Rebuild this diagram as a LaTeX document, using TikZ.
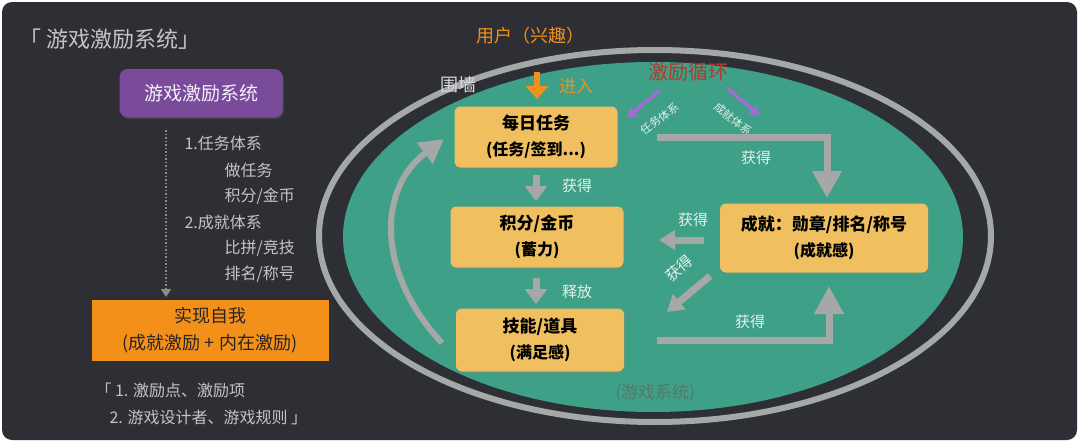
\documentclass[tikz,border=0pt]{standalone}
\usepackage{fontspec}
\setmainfont{Noto Sans CJK SC}
\usetikzlibrary{arrows.meta,shadows,calc}
\definecolor{bgc}{HTML}{2E2F34}
\definecolor{ringc}{HTML}{A4A8A6}
\definecolor{greenc}{HTML}{3FA088}
\definecolor{boxc}{HTML}{F0C060}
\definecolor{purc}{HTML}{7A4A9B}
\definecolor{orc}{HTML}{F39019}
\definecolor{txtl}{HTML}{C4C4C4}
\definecolor{garc}{HTML}{A5A8A6}
\definecolor{redc}{HTML}{B5392B}
\definecolor{arrp}{HTML}{A26DD2}
\definecolor{labc}{HTML}{E4F2EC}
\definecolor{gsys}{HTML}{55786E}
\newcommand{\secl}{\fontsize{16}{26}\selectfont}
\tikzset{
  ybox/.style={fill=boxc, rounded corners=6pt, align=center, text=black,
    font=\fontsize{17}{26}\selectfont\bfseries,
    drop shadow={shadow xshift=1pt, shadow yshift=-1.5pt, opacity=0.35}},
  garrow/.style={draw=garc, line width=7pt},
  lbl/.style={text=labc, font=\fontsize{15}{18}\selectfont},
  listtxt/.style={text=txtl, font=\fontsize{16}{18}\selectfont, anchor=west},
  parrow/.style={draw=arrp, line width=3.5pt, -{Triangle[length=10pt,width=11pt]}}
}
\begin{document}
\begin{tikzpicture}[x=1pt,y=-1pt]
\useasboundingbox (0,0) rectangle (1080,442);
\fill[white] (0,0) rectangle (1080,442);
\fill[bgc, rounded corners=10pt] (2,2) rectangle (1077,440);

% title
\node[text=txtl, font=\fontsize{22}{24}\selectfont, anchor=west] (title) at (16,39) {「 游戏激励系统」};

% purple box
\node[fill=purc, rounded corners=8pt, minimum width=163pt, minimum height=48pt, text=white!92!purc,
  font=\fontsize{19}{22}\selectfont,
  drop shadow={shadow xshift=1pt, shadow yshift=-1.5pt, opacity=0.4}] (mot) at (201,93) {游戏激励系统};

% list
\node[listtxt] (l1) at (181,143) {1.任务体系};
\node[listtxt] (l2) at (221,170) {做任务};
\node[listtxt] (l3) at (221,196) {积分/金币};
\node[listtxt] (l4) at (181,222) {2.成就体系};
\node[listtxt] (l5) at (221,248) {比拼/竞技};
\node[listtxt] (l6) at (221,274) {排名/称号};

% orange box
\node[fill=orc, minimum width=237pt, minimum height=61pt, align=center, text=black!85,
  font=\fontsize{18}{27}\selectfont] (self) at (210,330) {实现自我\\(成就激励 + 内在激励)};

\coordinate (dtop) at (166,130);
\coordinate (dbot) at (166,297);
\draw[draw=black!45, line width=1.5pt, dotted, -{Triangle[length=8pt,width=10pt]}] (dtop) -- (dbot);

% bottom notes
\node[listtxt] (n1) at (92,390) {「 1. 激励点、激励项};
\node[listtxt] (n2) at (106,417) {2. 游戏设计者、游戏规则 」};

% ellipses
\draw[ringc, line width=6pt] (655,236) ellipse [x radius=336pt, y radius=186pt];
\fill[greenc] (653,237) ellipse [x radius=310pt, y radius=175pt];

% top labels
\node[text=orc, font=\fontsize{18}{20}\selectfont] (user) at (530,36) {用户（兴趣）};
\node[text=white!85!black, font=\fontsize{18}{20}\selectfont] (wall) at (458,85) {围墙};
\coordinate (ein1) at (537,72);
\coordinate (ein2) at (537,99);
\draw[draw=orc, line width=6pt, -{Triangle[length=13pt,width=22pt]}] (ein1) -- (ein2);
\node[text=orc, font=\fontsize{17}{20}\selectfont] (enter) at (576,86) {进入};
\node[text=redc, font=\fontsize{20}{22}\selectfont] (loop) at (688,72) {激励循环};

% purple arrows
\coordinate (p1a) at (660,90);
\coordinate (p1b) at (627,118);
\coordinate (p2a) at (727,88);
\coordinate (p2b) at (760,116);
\draw[parrow] (p1a) -- (p1b);
\draw[parrow] (p2a) -- (p2b);
\node[text=labc, font=\fontsize{11}{12}\selectfont, rotate=37] (t1) at (660,119) {任务体系};
\node[text=labc, font=\fontsize{11}{12}\selectfont, rotate=-38] (t2) at (733,119) {成就体系};

% boxes
\node[ybox, minimum width=163pt, minimum height=61pt] (daily) at (536,137) {每日任务\\{\secl (任务/签到...)}};
\node[ybox, minimum width=173pt, minimum height=61pt] (points) at (537,237) {积分/金币\\{\secl (蓄力)}};
\node[ybox, minimum width=168pt, minimum height=63pt] (skill) at (540,340) {技能/道具\\{\secl (满足感)}};
\node[ybox, minimum width=208pt, minimum height=69pt] (ach) at (824,238) {成就：勋章/排名/称号\\{\secl (成就感)}};

% grey arrows
\coordinate (a1s) at (536,175);
\coordinate (a1e) at (536,201);
\draw[garrow, -{Triangle[length=15pt,width=22pt]}] (a1s) -- (a1e);
\node[lbl] (g1) at (577,186) {获得};
\coordinate (a2s) at (536,278);
\coordinate (a2e) at (536,304);
\draw[garrow, -{Triangle[length=15pt,width=22pt]}] (a2s) -- (a2e);
\node[lbl] (g2) at (577,292) {释放};

\coordinate (a3s) at (657,137);
\coordinate (a3e) at (827,198);
\draw[garrow, -{Triangle[length=27pt,width=28pt]}] (a3s) -| (a3e);
\node[lbl] (g3) at (756,158) {获得};

\coordinate (a4s) at (704,240);
\coordinate (a4e) at (659,240);
\draw[garrow, -{Triangle[length=16pt,width=19pt]}] (a4s) -- (a4e);
\node[lbl] (g4) at (693,220) {获得};

\coordinate (a5s) at (710,276);
\coordinate (a5e) at (667,312);
\draw[garrow, -{Triangle[length=16pt,width=19pt]}] (a5s) -- (a5e);
\node[lbl, rotate=40] (g5) at (679,268) {获得};

\coordinate (a6s) at (657,340);
\coordinate (a6e) at (829,286);
\draw[garrow, -{Triangle[length=28pt,width=28pt]}] (a6s) -| (a6e);
\node[lbl] (g6) at (750,322) {获得};

% big curved arrow
\coordinate (c1) at (442,343);
\coordinate (c2) at (444,139);
\draw[garrow, line width=6pt, -{Triangle[length=24pt,width=25pt]}] (c1) .. controls (378,275) and (376,190) .. (c2);

% system label
\node[text=gsys, font=\fontsize{17}{20}\selectfont] (sys) at (655,393) {(游戏系统)};
\end{tikzpicture}
\end{document}
